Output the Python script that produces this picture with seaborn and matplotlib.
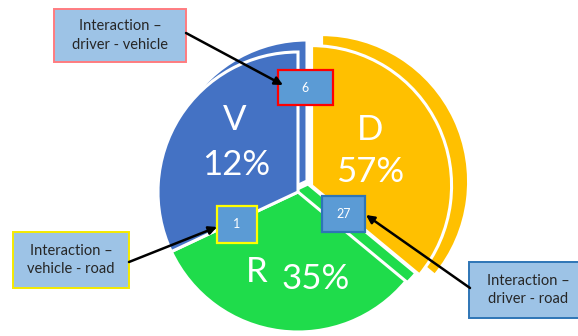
import matplotlib
matplotlib.use("Agg")
import matplotlib.pyplot as plt
import seaborn as sns
from matplotlib.patches import Rectangle

# ---- data ----
categories = ["D", "R", "V"]
pct_labels = ["57%", "35%", "12%"]
wedge_shares = [36, 32, 32]          # angular share of each slice as drawn
interaction_values = ["6", "1", "27"]
interaction_labels = ["Interaction –\ndriver - vehicle",
                      "Interaction –\nvehicle - road",
                      "Interaction –\ndriver - road"]

slice_colors = ["#FFC000", "#1FDC4B", "#4472C4"]

sns.set_theme(style="white")
plt.rcParams['font.family'] = ['Lato', 'DejaVu Sans']

W, H = 578, 336
fig = plt.figure(figsize=(W / 100, H / 100), dpi=100)
ax = fig.add_axes([0, 0, 1, 1])


def Y(p):
    return H - p


C = (298, Y(192))
RAD = 140
explode = [15, 0, 0]
wp = dict(edgecolor="white", linewidth=2.2)

# back (side) faces
back, _ = ax.pie(wedge_shares, colors=slice_colors, startangle=90, counterclock=False,
                 radius=RAD, center=C, explode=explode, wedgeprops=wp, frame=True)
back_shift = {"D": (10, 4, 7), "R": (10, 8, 0), "V": (9, 11, 1)}
for w, cat in zip(back, categories):
    dx, dy, dr = back_shift[cat]
    cx, cy = w.center
    w.set_center((cx + dx, cy + dy))
    w.set_radius(w.r + dr)

# front faces
front, _ = ax.pie(wedge_shares, colors=slice_colors, startangle=90, counterclock=False,
                  radius=RAD, center=C, explode=explode, wedgeprops=wp, frame=True)

# slice labels
cat_pos = {"D": (370, 130), "V": (235, 120)}
pct_pos = {"D": (370, 172), "V": (236, 165)}
for cat, pct in zip(categories, pct_labels):
    if cat == "R":
        ax.text(257, Y(272), cat, color="white", fontsize=25, ha="center", va="center")
        ax.text(316, Y(279), pct, color="white", fontsize=25, ha="center", va="center")
    else:
        x, y = cat_pos[cat]
        ax.text(x, Y(y), cat, color="white", fontsize=25, ha="center", va="center")
        x, y = pct_pos[cat]
        ax.text(x, Y(y), pct, color="white", fontsize=25, ha="center", va="center")

# value boxes
val_boxes = [(278, 70, 55, 35, "#FF0000"),
             (217, 206, 40, 37, "#FFFF00"),
             (322, 196, 43, 36, "#2E75B6")]
for v, (x, y, w, h, ec) in zip(interaction_values, val_boxes):
    ax.add_patch(Rectangle((x, Y(y + h)), w, h, facecolor="#5B9BD5", edgecolor=ec, linewidth=1.6, zorder=5))
    ax.text(x + w / 2, Y(y + h / 2), v, color="white", fontsize=9, ha="center", va="center", zorder=6)

# label boxes
lab_boxes = [(54, 9, 132, 53, "#FF7C80"),
             (13, 232, 116, 56, "#F5EA00"),
             (469, 262, 120, 56, "#2E75B6")]
arrows = [((186, 33), (283, 85)),
          ((129, 262), (217, 227)),
          ((470, 288), (366, 215))]
for lab, (x, y, w, h, ec), (s, t) in zip(interaction_labels, lab_boxes, arrows):
    ax.add_patch(Rectangle((x, Y(y + h)), w, h, facecolor="#9DC3E6", edgecolor=ec, linewidth=1.4, zorder=5))
    tx = x + w / 2 if x + w <= W else 528
    ax.text(tx, Y(y + h / 2), lab, color="#262626", fontsize=10.5, ha="center", va="center",
            linespacing=1.45, zorder=6)
    ax.annotate("", xy=(t[0], Y(t[1])), xytext=(s[0], Y(s[1])),
                arrowprops=dict(arrowstyle="-|>", color="black", lw=1.8, mutation_scale=12,
                                shrinkA=0, shrinkB=0), zorder=7)

ax.set_xlim(0, W)
ax.set_ylim(0, H)
ax.set_aspect("auto")
ax.axis("off")
fig.savefig("out.png", dpi=100)
